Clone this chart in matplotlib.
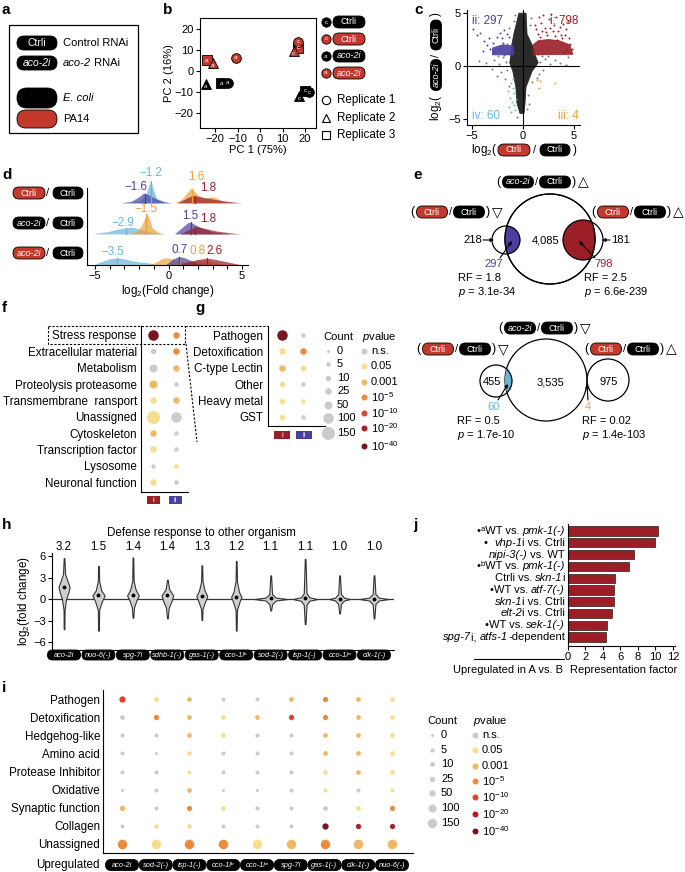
import numpy as np
import matplotlib
matplotlib.use('Agg')
import matplotlib.pyplot as plt
from matplotlib.patches import FancyBboxPatch, Circle, Rectangle, Polygon

plt.rcParams['font.family'] = ['Liberation Sans', 'DejaVu Sans']
plt.rcParams['mathtext.fontset'] = 'custom'
plt.rcParams['mathtext.rm'] = 'Liberation Sans'
plt.rcParams['mathtext.it'] = 'Liberation Sans:italic'
plt.rcParams['font.size'] = 8
plt.rcParams['axes.linewidth'] = 0.8
for k in ['xtick', 'ytick']:
    plt.rcParams[k + '.major.width'] = 0.8
    plt.rcParams[k + '.minor.width'] = 0.8
    plt.rcParams[k + '.major.size'] = 3
    plt.rcParams[k + '.minor.size'] = 3
    plt.rcParams[k + '.major.pad'] = 1.5

# ---------------- data ----------------
# b: PCA
pca_pc1 = [20.0, 17.5, 22.0, 17.0, 15.0, 17.0, -17.3, -24.0, -14.2, -23.6, -21.0, -10.7]
pca_pc2 = [-9.5, -12.0, -10.0, 11.0, 9.5, 13.8, -5.8, -6.2, -5.6, 5.2, 3.8, 6.2]
pca_rnai = ['c', 'c', 'c', 'c', 'c', 'c', 'a', 'a', 'a', 'a', 'a', 'a']
pca_pa14 = [0, 0, 0, 1, 1, 1, 0, 0, 0, 1, 1, 1]
pca_rep = [3, 2, 1, 3, 2, 1, 3, 2, 1, 3, 2, 1]

# c: scatter, dense regions as outlines + scattered points
cloud_x = [-0.4, 0.3, 0.4, 0.9, 1.2, 1.5, 0.9, 0.3, 0.2, 0.1, -0.3, -0.6, -0.7, -1.0, -1.3, -1.2, -1.1, -0.9]
cloud_y = [5.0, 5.0, 3.0, 2.0, 1.0, 0.3, -0.5, -2.0, -3.5, -4.5, -4.5, -3.5, -2.0, -0.5, 0.3, 1.0, 2.0, 3.0]
redpatch_x = [1.0, 4.9, 4.6, 3.5, 2.5, 1.5, 1.0]
redpatch_y = [1.05, 1.1, 2.0, 2.4, 2.5, 2.4, 2.0]
bluepatch_x = [-3.0, -0.9, -0.9, -2.0, -3.0]
bluepatch_y = [1.05, 1.05, 1.9, 2.0, 1.7]
red_x = [1.3, 1.8, 2.2, 2.6, 3.0, 3.4, 3.9, 4.2, 4.5, 3.7, 2.9, 2.4, 1.6, 2.0, 3.2, 4.4, 4.8, 4.6, 1.2, 2.7, 3.6, 1.9, 4.1, 3.3, 4.0, 4.3, 1.5, 2.3, 3.1, 3.8, 2.8, 1.7]
red_y = [3.5, 4.1, 3.6, 4.4, 3.9, 3.3, 4.0, 3.5, 2.6, 2.9, 3.3, 2.9, 4.6, 4.8, 4.6, 4.3, 1.6, 2.1, 3.9, 3.6, 3.7, 3.3, 2.9, 2.5, 1.3, 1.5, 3.0, 3.2, 2.8, 2.6, 4.9, 2.7]
blue_x = [-4.5, -4.2, -3.8, -3.5, -3.2, -2.9, -2.6, -2.4, -2.1, -1.9, -1.6, -3.9, -2.8, -4.9, -2.3, -1.4, -3.3, -2.0]
blue_y = [2.9, 3.1, 2.4, 2.0, 1.6, 2.2, 2.7, 1.7, 2.6, 3.4, 3.0, 1.4, 1.3, 3.5, 3.1, 2.7, 2.6, 2.2]
lblue_x = [-1.2, -1.0, -0.9, -1.3, -1.1, -0.9, -1.4, -0.8, -1.2, -0.7, -1.5, -1.0]
lblue_y = [-1.6, -2.1, -2.6, -3.0, -3.4, -3.7, -3.9, -4.2, -4.4, -3.1, -2.4, -1.2]
orng_x = [1.4, 1.6, 3.1, 1.7]
orng_y = [-1.3, -2.1, -1.6, -1.4]
gray_x = [-3.6, -2.8, -2.4, -2.0, -1.7, -1.6, -2.2, -3.0, 1.7, 2.2, 2.7, 3.1, 3.6, 4.4, 2.0, 1.6, 1.4, -1.8, -1.4, 0.5, 0.6, 0.4, -0.9, 0.7, 0.8, -1.4, -1.5, 1.5, -0.6, 4.2, -4.3, -2.6, -1.9, 1.9, 0.9, -0.8, 0.6, -1.6, 2.5, -2.5]
gray_y = [0.3, 0.6, 0.2, 0.8, 0.4, -0.4, -0.6, -0.3, 0.4, 0.7, 0.2, 0.6, 0.3, 0.8, -0.4, -0.8, -1.1, -1.2, -1.9, -2.8, -3.6, -4.1, 4.3, 3.9, 4.5, 3.6, 1.2, 1.1, -4.8, 0.1, 0.5, -1.0, 1.0, 0.9, -1.5, 4.8, 2.4, 2.1, 0.95, 0.9]
quad_labels = ['ii: 297', 'i: 798', 'iv: 60', 'iii: 4']

# d: ridge densities (x, height) per row
r1_blue_x = [-2.6, -2.0, -1.6, -1.35, -1.2, -1.05, -0.8, -0.3, 0.1]
r1_blue_y = [0, 0.06, 0.22, 0.55, 0.72, 0.45, 0.15, 0.03, 0]
r1_purp_x = [-3.2, -2.5, -2.0, -1.7, -1.3, -0.8, -0.3, 0.2]
r1_purp_y = [0, 0.06, 0.2, 0.32, 0.25, 0.12, 0.04, 0]
r1_orng_x = [0.4, 0.9, 1.3, 1.55, 1.9, 2.4, 2.9, 3.2, 3.7, 4.3]
r1_orng_y = [0, 0.12, 0.35, 0.48, 0.3, 0.14, 0.2, 0.18, 0.04, 0]
r1_red_x = [0.6, 1.1, 1.6, 2.1, 2.7, 3.3, 3.9, 4.6, 5.0]
r1_red_y = [0, 0.12, 0.24, 0.2, 0.15, 0.1, 0.06, 0.02, 0]
r2_blue_x = [-5.0, -4.2, -3.5, -2.9, -2.4, -2.0, -1.5, -1.0, -0.5]
r2_blue_y = [0.02, 0.07, 0.15, 0.2, 0.22, 0.16, 0.1, 0.04, 0]
r2_orng_x = [-2.6, -2.1, -1.8, -1.5, -1.35, -1.1, -0.7, -0.2]
r2_orng_y = [0, 0.1, 0.3, 0.65, 0.55, 0.2, 0.05, 0]
r2_purp_x = [0.4, 0.9, 1.3, 1.5, 1.8, 2.3, 2.9, 3.6, 4.2]
r2_purp_y = [0, 0.2, 0.36, 0.38, 0.3, 0.18, 0.08, 0.03, 0]
r2_red_x = [0.8, 1.4, 1.9, 2.5, 3.2, 4.0, 4.7, 5.0]
r2_red_y = [0, 0.15, 0.24, 0.18, 0.1, 0.05, 0.01, 0]
r3_blue_x = [-5.0, -4.5, -4.0, -3.5, -3.0, -2.5, -2.0, -1.5, -1.0, -0.5]
r3_blue_y = [0.03, 0.12, 0.2, 0.23, 0.2, 0.14, 0.1, 0.08, 0.04, 0]
r3_orng_x = [-1.5, -0.9, -0.4, 0.0, 0.5, 1.0, 1.6, 2.2, 2.8, 3.4, 4.0]
r3_orng_y = [0, 0.08, 0.22, 0.23, 0.15, 0.1, 0.12, 0.15, 0.12, 0.05, 0]
r3_purp_x = [-0.2, 0.3, 0.7, 1.0, 1.5, 2.0, 2.6]
r3_purp_y = [0, 0.2, 0.27, 0.25, 0.15, 0.05, 0]
r3_red_x = [0.6, 1.3, 2.0, 2.6, 3.2, 3.8, 4.5, 5.0]
r3_red_y = [0, 0.1, 0.18, 0.22, 0.18, 0.12, 0.05, 0]
r1_medians = [-1.2, -1.6, 1.6, 1.8]
r2_medians = [-2.9, -1.5, 1.5, 1.8]
r3_medians = [-3.5, 0.8, 0.7, 2.6]

# e: venn numbers
venn_up = ['218', '4,085', '181', '297', '798']
venn_up_stats = ['RF = 1.8', '$p$ = 3.1e-34', 'RF = 2.5', '$p$ = 6.6e-239']
venn_dn = ['455', '3,535', '975', '60', '4']
venn_dn_stats = ['RF = 0.5', '$p$ = 1.7e-10', 'RF = 0.02', '$p$ = 1.4e-103']

# f / g / i: enrichment dot plots (count, p-value level 0=n.s. ... 6=1e-40)
legend_counts = [0, 5, 10, 25, 50, 100, 150]
p_labels = ['n.s.', '0.05', '0.001', '10$^{-5}$', '10$^{-10}$', '10$^{-20}$', '10$^{-40}$']
f_rows = ['Stress response', 'Extracellular material', 'Metabolism', 'Proteolysis proteasome',
          'Transmembrane  ransport', 'Unassigned', 'Cytoskeleton', 'Transcription factor',
          'Lysosome', 'Neuronal function']
f_count_i = [100, 10, 50, 50, 25, 150, 25, 25, 5, 25]
f_count_ii = [25, 25, 25, 5, 25, 100, 5, 5, 5, 5]
f_level_i = [6, 0, 0, 2, 1, 1, 2, 1, 0, 1]
f_level_ii = [3, 3, 2, 0, 2, 0, 0, 0, 1, 0]
g_rows = ['Pathogen', 'Detoxification', 'C-type Lectin', 'Other', 'Heavy metal', 'GST']
g_count_i = [100, 25, 25, 10, 10, 10]
g_count_ii = [5, 25, 10, 5, 5, 5]
g_level_i = [6, 1, 2, 1, 1, 1]
g_level_ii = [0, 3, 1, 0, 1, 0]

i_rows = ['Pathogen', 'Detoxification', 'Hedgehog-like', 'Amino acid', 'Protease Inhibitor',
          'Oxidative', 'Synaptic function', 'Collagen', 'Unassigned']
i_cols = ['aco-2i', 'sod-2(-)', 'isp-1(-)', 'cco-1iᵇ', 'cco-1iᵃ', 'spg-7i', 'gas-1(-)', 'clk-1(-)', 'nuo-6(-)']
i_counts = [[50, 10, 10, 5, 5, 10, 25, 10, 10],
            [10, 25, 10, 10, 10, 25, 25, 10, 10],
            [5, 5, 10, 10, 5, 5, 10, 10, 10],
            [5, 0, 10, 5, 5, 5, 10, 10, 10],
            [5, 5, 5, 5, 5, 5, 10, 10, 10],
            [0, 5, 10, 0, 0, 5, 5, 5, 5],
            [25, 5, 25, 10, 5, 5, 10, 10, 25],
            [5, 10, 10, 5, 5, 5, 50, 25, 25],
            [150, 150, 150, 150, 150, 150, 150, 150, 150]]
i_levels = [[4, 1, 2, 0, 0, 2, 3, 2, 1],
            [0, 3, 2, 1, 2, 4, 3, 2, 1],
            [0, 0, 2, 1, 0, 0, 2, 2, 1],
            [0, 0, 1, 0, 0, 0, 2, 2, 1],
            [0, 0, 1, 0, 0, 0, 1, 2, 1],
            [0, 0, 2, 0, 0, 0, 1, 0, 1],
            [2, 0, 3, 1, 0, 0, 0, 1, 3],
            [0, 1, 1, 0, 0, 0, 6, 5, 5],
            [3, 1, 3, 3, 1, 2, 3, 2, 2]]

# h: violins (y knots, half widths), medians, representation factors
h_cols = ['aco-2i', 'nuo-6(-)', 'spg-7i', 'sdhb-1(-)', 'gas-1(-)', 'cco-1iᵇ', 'sod-2(-)', 'isp-1(-)', 'cco-1iᵃ', 'clk-1(-)']
h_rf = ['3.2', '1.5', '1.4', '1.4', '1.3', '1.2', '1.1', '1.1', '1.0', '1.0']
viol_y = [[-4.2, -1.5, 0, 1.0, 1.7, 2.5, 3.5, 5.7],
          [-4.4, -1.5, -0.3, 0.5, 1.2, 2.5, 4.6],
          [-2.6, -1.2, -0.2, 0.5, 1.3, 2.5, 5.8],
          [-2.7, -1.2, -0.3, 0.5, 1.4, 2.7],
          [-2.9, -1.4, -0.3, 0.4, 1.2, 2.5, 4.7],
          [-4.4, -1.5, -0.3, 0.3, 1.0, 2.5, 5.3],
          [-1.6, -0.7, -0.2, 0.0, 0.2, 0.7, 3.3],
          [-3.5, -0.8, -0.25, 0.0, 0.25, 0.8, 5.6],
          [-2.0, -0.7, -0.2, 0.0, 0.2, 0.7, 3.3],
          [-2.7, -0.7, -0.2, 0.0, 0.2, 0.7, 3.3]]
viol_w = [[0.01, 0.015, 0.06, 0.13, 0.16, 0.1, 0.03, 0.01],
          [0.01, 0.02, 0.1, 0.18, 0.08, 0.02, 0.01],
          [0.01, 0.03, 0.1, 0.17, 0.08, 0.02, 0.01],
          [0.01, 0.04, 0.12, 0.17, 0.05, 0.01],
          [0.01, 0.02, 0.1, 0.16, 0.08, 0.02, 0.01],
          [0.01, 0.02, 0.1, 0.15, 0.08, 0.02, 0.01],
          [0.01, 0.04, 0.15, 0.48, 0.15, 0.04, 0.01],
          [0.01, 0.04, 0.12, 0.35, 0.12, 0.04, 0.01],
          [0.01, 0.04, 0.13, 0.3, 0.13, 0.04, 0.01],
          [0.01, 0.04, 0.14, 0.42, 0.14, 0.04, 0.01]]
viol_med = [1.7, 0.5, 0.5, 0.5, 0.4, 0.3, 0.1, 0.1, 0.0, 0.0]

# j: representation factors
j_labels = [[('•ᵃWT vs. ', 'normal'), ('pmk-1(-)', 'italic')],
            [('•  ', 'normal'), ('vhp-1', 'italic'), ('i vs. Ctrli', 'normal')],
            [('nipi-3(-)', 'italic'), (' vs. WT', 'normal')],
            [('•ᵇWT vs. ', 'normal'), ('pmk-1(-)', 'italic')],
            [('Ctrli vs. ', 'normal'), ('skn-1', 'italic'), ('i', 'normal')],
            [('•WT vs. ', 'normal'), ('atf-7(-)', 'italic')],
            [('skn-1', 'italic'), ('i vs. Ctrli', 'normal')],
            [('elt-2', 'italic'), ('i vs. Ctrli', 'normal')],
            [('•WT vs. ', 'normal'), ('sek-1(-)', 'italic')],
            [('spg-7', 'italic'), ('i, ', 'normal'), ('atfs-1', 'italic'), ('-dependent', 'normal')]]
j_values = [10.3, 9.9, 7.6, 7.0, 5.4, 5.3, 5.3, 5.0, 4.5, 4.4]

# ---------------- style ----------------
PA14 = '#c4392d'
DARKRED = '#9b1d26'
PURPLE = '#4a40a0'
LBLUE = '#6ab4d8'
ORANGE = '#e9a23b'
P_COLORS = ['#cbcbcb', '#f3df8f', '#efb862', '#eb8b3d', '#dc4430', '#ad2029', '#781523']
fg_diam = [3, 4.5, 5.5, 6.5, 8, 10.5, 13]
i_diam = [3, 4, 4.7, 5.3, 6.3, 8, 9.5]

W, H = 685, 872
fig = plt.figure(figsize=(W / 100, H / 100), dpi=100)
ov = fig.add_axes([0, 0, 1, 1], zorder=10)
ov.set_xlim(0, W)
ov.set_ylim(H, 0)
ov.axis('off')
renderer = fig.canvas.get_renderer()


def px_axes(x0, y0, x1, y1):
    return fig.add_axes([x0 / W, 1 - y1 / H, (x1 - x0) / W, (y1 - y0) / H])


def pill(x, y, txt, fc='black', w=31, h=12, fs=6.5, style='normal', rot=0):
    if rot:
        w, h = h, w
    ov.add_patch(FancyBboxPatch((x - w / 2, y - h / 2), w, h,
                                boxstyle='round,pad=0,rounding_size=%g' % (min(w, h) / 2),
                                fc=fc, ec='black', lw=0.6))
    if txt:
        ov.text(x, y, txt, color='white', fontsize=fs, style=style, ha='center',
                va='center', rotation=rot)


def text_w(s, **kw):
    # width of a string including leading/trailing spaces
    t1 = ov.text(0, 0, '|' + s + '|', **kw)
    t2 = ov.text(0, 0, '||', **kw)
    w = t1.get_window_extent(renderer).width - t2.get_window_extent(renderer).width
    t1.remove()
    t2.remove()
    return w


def rich(x, y, parts, ha='left', fs=8, color='black'):
    seq = parts[::-1] if ha == 'right' else parts
    for s, st in seq:
        ov.text(x, y, s, fontsize=fs, style=st, ha=ha, va='center', color=color)
        w = text_w(s, fontsize=fs, style=st)
        x = x + w if ha == 'left' else x - w


def ratio(x, y, left, lcol, tri, left_it=False):
    ov.text(x, y, '(', ha='center', va='center', fontsize=9)
    pill(x + 20, y, left, lcol, 31, 12, 6.5, 'italic' if left_it else 'normal')
    ov.text(x + 38.5, y, '/', ha='center', va='center', fontsize=8)
    pill(x + 57, y, 'Ctrli', 'black', 31, 12, 6.5)
    ov.text(x + 76, y, ')', ha='center', va='center', fontsize=9)
    ov.text(x + 85, y, tri, ha='center', va='center', fontsize=10)


def panel(x, y, s):
    ov.text(x, y, s, fontsize=11, fontweight='bold', va='center', ha='left')


def dots(ax, counts, levels, diam):
    for r, (crow, lrow) in enumerate(zip(counts, levels)):
        for c, (n, lv) in enumerate(zip(crow, lrow)):
            d = np.interp(n, legend_counts, diam)
            ax.scatter(c, r, s=(d * 0.72) ** 2, color=P_COLORS[lv], lw=0, clip_on=False)


def dot_legend(xc, yc, ycs, xp, yp, yps, diam):
    ov.text(xc + 10, yc, 'Count', ha='center', va='center')
    for n, yy, d in zip(legend_counts, ycs, diam):
        ov.scatter(xc, yy, s=(d * 0.72) ** 2, color='#cbcbcb', lw=0)
        ov.text(xc + 9, yy, str(n), va='center')
    ov.text(xp - 2, yp, '$p$value', va='center')
    for lab, yy, col in zip(p_labels, yps, P_COLORS):
        ov.scatter(xp, yy, s=(6 * 0.72) ** 2, color=col, lw=0)
        ov.text(xp + 7, yy, lab, va='center')


# ---------------- a ----------------
panel(2, 10, 'a')
ov.add_patch(Rectangle((9, 25), 129, 108, fill=False, lw=0.9, ec='black'))
pill(37, 43, 'Ctrli', 'black', 40, 14, 7.5)
ov.text(63, 43, 'Control RNAi', va='center')
pill(37, 63, 'aco-2i', 'black', 40, 14, 7.5, 'italic')
rich(63, 63, [('aco-2', 'italic'), (' RNAi', 'normal')])
pill(37, 98, '', 'black', 40, 20)
ov.text(63, 98, 'E. coli', style='italic', va='center')
pill(37, 119, '', PA14, 40, 18)
ov.text(63, 119, 'PA14', va='center')

# ---------------- b ----------------
panel(163, 10, 'b')
axb = px_axes(200, 18, 316, 128)
markers = {1: 'o', 2: '^', 3: 's'}
msizes = {1: 7.0, 2: 7.5, 3: 6.5}
for x, y, rn, pa, rep in zip(pca_pc1, pca_pc2, pca_rnai, pca_pa14, pca_rep):
    axb.plot(x, y, marker=markers[rep], ms=msizes[rep], mfc=PA14 if pa else 'black',
             mec='black', mew=0.6, ls='none')
    axb.text(x, y - (1.2 if rep == 2 else 0), rn, color='white', fontsize=4.5, ha='center',
             va='center', style='italic' if rn == 'a' else 'normal')
axb.set_xlim(-26.7, 24.9)
axb.set_ylim(-27.1, 25.2)
axb.set_xticks([-20, -10, 0, 10, 20])
axb.set_yticks([-20, -10, 0, 10, 20])
axb.set_xlabel('PC 1 (75%)', labelpad=0.5)
axb.set_ylabel('PC 2 (16%)', labelpad=0.5)
for yy, fc, lab, it in zip([22, 39, 56, 73], ['black', PA14, 'black', PA14],
                           ['Ctrli', 'Ctrli', 'aco-2i', 'aco-2i'], [0, 0, 1, 1]):
    ov.scatter(326, yy, s=45, color=fc, edgecolor='black', lw=0.6)
    ov.text(326, yy, 'a' if it else 'c', color='white', fontsize=4.5, ha='center', va='center',
            style='italic' if it else 'normal')
    pill(349, yy, lab, fc, 32, 12, 6.5, 'italic' if it else 'normal')
for yy, m, k in zip([100, 118, 135], ['o', '^', 's'], [1, 2, 3]):
    ov.plot(326, yy, marker=m, ms=6, mfc='white', mec='black', mew=0.8, ls='none')
    ov.text(337, yy, 'Replicate %d' % k, va='center', fontsize=8.4)

# ---------------- c ----------------
panel(414, 10, 'c')
axc = px_axes(467, 10, 580, 125)
axc.scatter(gray_x, gray_y, s=2, color='#777777', lw=0)
axc.add_patch(Polygon(np.column_stack([cloud_x, cloud_y]), fc='#2b2b2b', ec='#2b2b2b', lw=0.6))
axc.add_patch(Polygon(np.column_stack([redpatch_x, redpatch_y]), fc=DARKRED, ec=DARKRED, lw=0.6, alpha=0.9))
axc.add_patch(Polygon(np.column_stack([bluepatch_x, bluepatch_y]), fc=PURPLE, ec=PURPLE, lw=0.6, alpha=0.9))
axc.scatter(red_x, red_y, s=2, color=DARKRED, lw=0)
axc.scatter(blue_x, blue_y, s=2, color=PURPLE, lw=0)
axc.scatter(lblue_x, lblue_y, s=2, color=LBLUE, lw=0)
axc.scatter(orng_x, orng_y, s=2, color=ORANGE, lw=0)
axc.axhline(0, color='black', lw=0.8)
axc.axvline(0, color='black', lw=0.8)
axc.set_xlim(-5.5, 5.6)
axc.set_ylim(-5.6, 5.3)
axc.set_xticks([-5, 0, 5])
axc.set_yticks([-5, 0, 5])
for s in ['top', 'right']:
    axc.spines[s].set_visible(False)
axc.text(0.04, 0.96, quad_labels[0], color=PURPLE, transform=axc.transAxes, va='top', fontsize=8.4)
axc.text(0.99, 0.96, quad_labels[1], color=DARKRED, transform=axc.transAxes, va='top', ha='right', fontsize=8.4)
axc.text(0.04, 0.03, quad_labels[2], color=LBLUE, transform=axc.transAxes, va='bottom', fontsize=8.4)
axc.text(0.99, 0.03, quad_labels[3], color=ORANGE, transform=axc.transAxes, va='bottom', ha='right', fontsize=8.4)
ov.text(497, 150, 'log$_2$(', ha='right', va='center', fontsize=8.4)
pill(514, 150, 'Ctrli', PA14, 32, 12, 6.5)
ov.text(535, 150, '/', ha='center', va='center')
pill(555, 150, 'Ctrli', 'black', 30, 12, 6.5)
ov.text(573, 150, ')', ha='left', va='center', fontsize=8.4)
ov.text(436, 108, 'log$_2$(', rotation=90, ha='center', va='center', fontsize=8.4)
pill(436, 75, 'aco-2i', 'black', 31, 11, 6.5, 'italic', rot=90)
ov.text(436, 55, '/', rotation=90, ha='center', va='center')
pill(436, 35, 'Ctrli', 'black', 30, 11, 6.5, rot=90)
ov.text(436, 14, ')', rotation=90, ha='center', va='center', fontsize=8.4)

# ---------------- d ----------------
panel(2, 175, 'd')
axd = px_axes(87, 188, 248, 265)
rows = [(2, [(r1_blue_x, r1_blue_y, LBLUE), (r1_purp_x, r1_purp_y, PURPLE),
             (r1_orng_x, r1_orng_y, ORANGE), (r1_red_x, r1_red_y, DARKRED)], r1_medians),
        (1, [(r2_blue_x, r2_blue_y, LBLUE), (r2_orng_x, r2_orng_y, ORANGE),
             (r2_purp_x, r2_purp_y, PURPLE), (r2_red_x, r2_red_y, DARKRED)], r2_medians),
        (0, [(r3_blue_x, r3_blue_y, LBLUE), (r3_orng_x, r3_orng_y, ORANGE),
             (r3_purp_x, r3_purp_y, PURPLE), (r3_red_x, r3_red_y, DARKRED)], r3_medians)]
label_off = [[(0.0, 0.95), (-0.6, 0.52), (0.3, 0.84), (0.9, 0.48)],
             [(-0.2, 0.35), (-0.05, 0.8), (0.0, 0.58), (0.9, 0.48)],
             [(-0.3, 0.42), (1.2, 0.45), (0.05, 0.48), (0.5, 0.45)]]
for (base, curves, meds), offs in zip(rows, label_off):
    for (xs, ys, col), med, (dx, dy) in zip(curves, meds, offs):
        ax_y = base + np.array(ys)
        axd.fill_between(xs, base, ax_y, color=col, alpha=0.7, lw=0, clip_on=False)
        hmed = np.interp(med, xs, ys)
        axd.plot([med, med], [base, base + hmed], color=col, lw=0.9, clip_on=False)
        txt = ('%.1f' % med).replace('-', '−')
        axd.text(med + dx, base + dy, txt, color=col, ha='center', va='center', fontsize=8.4)
axd.set_xlim(-5.54, 5.4)
axd.set_ylim(0, 2.48)
axd.set_xticks([-5, 0, 5])
axd.set_xticks(range(-5, 6), minor=True)
axd.set_yticks([])
for s in ['top', 'right']:
    axd.spines[s].set_visible(False)
axd.set_xlabel('log$_2$(Fold change)', labelpad=1, fontsize=8.4)
for yy, lc, lt, it in zip([193, 223, 253], [PA14, 'black', PA14], ['Ctrli', 'aco-2i', 'aco-2i'], [0, 1, 1]):
    pill(29, yy, lt, lc, 32, 12, 6.5, 'italic' if it else 'normal')
    ov.text(48, yy, '/', ha='center', va='center')
    pill(68, yy, 'Ctrli', 'black', 30, 12, 6.5)

# ---------------- e ----------------
panel(413, 175, 'e')
ratio(498, 182, 'aco-2i', 'black', '△', True)
ratio(412, 212, 'Ctrli', PA14, '▽')
ratio(593, 212, 'Ctrli', PA14, '△')
big = Circle((550, 239), 45, fill=False, ec='black', lw=0.9)
ov.add_patch(big)
blue_lens = Circle((506, 240), 14, fc=PURPLE, ec='none')
ov.add_patch(blue_lens)
blue_lens.set_clip_path(big)
red_lens = Circle((583, 240), 20, fc=DARKRED, ec='none')
ov.add_patch(red_lens)
red_lens.set_clip_path(big)
ov.add_patch(Circle((506, 240), 14, fill=False, ec='black', lw=0.9))
ov.add_patch(Circle((583, 240), 20, fill=False, ec='black', lw=0.9))
ov.add_patch(Circle((550, 239), 45, fill=False, ec='black', lw=0.9))
aprops = dict(arrowstyle='-|>', lw=0.8, color='black', mutation_scale=5, shrinkA=0, shrinkB=0)
ov.text(482, 240, venn_up[0], ha='right', va='center')
ov.annotate('', xy=(494, 240), xytext=(483, 240), arrowprops=aprops)
ov.text(546, 240, venn_up[1], ha='center', va='center')
ov.text(611, 240, venn_up[2], ha='left', va='center')
ov.annotate('', xy=(602, 240), xytext=(610, 240), arrowprops=aprops)
ov.text(494, 264, venn_up[3], ha='center', va='center', color=PURPLE)
ov.annotate('', xy=(512, 241), xytext=(500, 258), arrowprops=aprops)
ov.text(604, 264, venn_up[4], ha='center', va='center', color=DARKRED)
ov.annotate('', xy=(579, 241), xytext=(595, 258), arrowprops=aprops)
ov.text(458, 278, venn_up_stats[0], va='center')
ov.text(458, 292, venn_up_stats[1], va='center')
ov.text(584, 278, venn_up_stats[2], va='center')
ov.text(584, 292, venn_up_stats[3], va='center')

ratio(500, 328, 'aco-2i', 'black', '▽', True)
ratio(418, 349, 'Ctrli', PA14, '▽')
ratio(586, 349, 'Ctrli', PA14, '△')
big2 = Circle((546, 380), 41, fill=False, ec='black', lw=0.9)
ov.add_patch(big2)
lb_lens = Circle((496, 381), 16, fc=LBLUE, ec='none')
ov.add_patch(lb_lens)
lb_lens.set_clip_path(big2)
ov.add_patch(Circle((496, 381), 16, fill=False, ec='black', lw=0.9))
ov.add_patch(Circle((608, 380), 21, fill=False, ec='black', lw=0.9))
ov.text(492, 382, venn_dn[0], ha='center', va='center')
ov.text(550, 382, venn_dn[1], ha='center', va='center')
ov.text(609, 382, venn_dn[2], ha='center', va='center')
ov.text(494, 407, venn_dn[3], ha='center', va='center', color=LBLUE)
ov.annotate('', xy=(508, 384), xytext=(498, 400), arrowprops=aprops)
ov.text(588, 407, venn_dn[4], ha='center', va='center', color=ORANGE)
ov.annotate('', xy=(587, 384), xytext=(588, 400), arrowprops=aprops)
ov.text(457, 421, venn_dn_stats[0], va='center')
ov.text(457, 435, venn_dn_stats[1], va='center')
ov.text(582, 421, venn_dn_stats[2], va='center')
ov.text(582, 435, venn_dn_stats[3], va='center')

# ---------------- f ----------------
panel(2, 308, 'f')
axf = px_axes(141, 326, 188, 492)
dots(axf, list(zip(f_count_i, f_count_ii)), list(zip(f_level_i, f_level_ii)), fg_diam)
axf.set_xlim(-0.52, 1.52)
axf.set_ylim(9.61, -0.55)
axf.set_yticks(range(len(f_rows)))
axf.set_yticklabels(f_rows, fontsize=8.4)
axf.tick_params(axis='y', length=0, pad=3)
axf.set_xticks([])
for s in ['top', 'right']:
    axf.spines[s].set_visible(False)
for x0, fc, t in [(147, DARKRED, 'i'), (169, PURPLE, 'ii')]:
    ov.add_patch(Rectangle((x0, 496), 13, 8, fc=fc, ec='none'))
    ov.text(x0 + 6.5, 500, t, color='white', fontsize=5.5, ha='center', va='center')
ov.add_patch(Rectangle((48, 326), 137, 18, fill=False, ls=(0, (2, 1.5)), lw=0.8))
ov.plot([185, 268], [326, 326], ls=(0, (2, 1.5)), lw=0.8, color='black')
ov.plot([186, 197], [344, 442], ls=(0, (2, 1.5)), lw=0.8, color='black')

# ---------------- g ----------------
panel(195, 308, 'g')
axg = px_axes(268, 326, 325, 426)
dots(axg, list(zip(g_count_i, g_count_ii)), list(zip(g_level_i, g_level_ii)), fg_diam)
axg.set_xlim(-0.67, 2.05)
axg.set_ylim(5.55, -0.55)
axg.set_yticks(range(len(g_rows)))
axg.set_yticklabels(g_rows, fontsize=8.4)
axg.tick_params(axis='y', length=0, pad=3.5)
axg.set_xticks([])
for s in ['top', 'right']:
    axg.spines[s].set_visible(False)
for x0, fc, t in [(274, DARKRED, 'i'), (296, PURPLE, 'ii')]:
    ov.add_patch(Rectangle((x0, 431), 16, 8, fc=fc, ec='none'))
    ov.text(x0 + 8, 435, t, color='white', fontsize=5.5, ha='center', va='center')
dot_legend(328, 337, [351, 364, 378, 391, 405, 418, 433], 364, 337,
           [351, 366, 382, 397, 413, 428, 446], fg_diam)

# ---------------- h ----------------
panel(2, 525, 'h')
axh = px_axes(52, 553, 394, 650)
axh.axhline(0, color='#333333', lw=0.9, zorder=1)
for k in range(len(viol_y)):
    yv = np.array(viol_y[k])
    wv = np.array(viol_w[k])
    axh.fill_betweenx(yv, k - wv, k + wv, fc='#cfcfcf', ec='#333333', lw=0.8, zorder=2)
    axh.plot(k, viol_med[k], 'o', ms=1.8, color='black', zorder=3)
    axh.text(k, 7.3, h_rf[k], ha='center', va='center', fontsize=8.4)
axh.text(4.0, 9.2, 'Defense response to other organism', ha='center', va='center', fontsize=8.4)
axh.set_xlim(-0.35, 9.58)
axh.set_ylim(-7.1, 6.42)
axh.set_yticks([-6, -3, 0, 3, 6])
axh.set_xticks([])
for s in ['top', 'right']:
    axh.spines[s].set_visible(False)
axh.set_ylabel('log$_2$(fold change)', labelpad=1, fontsize=8.4)
for k, lab in enumerate(h_cols):
    pill(64 + 34.44 * k, 655, lab, 'black', 33, 10, 5.3, 'italic')

# ---------------- j ----------------
panel(413, 525, 'j')
axj = px_axes(568, 524, 675, 646)
axj.barh(range(len(j_values)), j_values, height=0.78, color=DARKRED, ec='black', lw=0.4)
axj.set_xlim(0, 12.23)
axj.set_ylim(9.76, -0.6)
axj.set_xticks(range(0, 13, 2))
axj.set_yticks([])
for s in ['top', 'right']:
    axj.spines[s].set_visible(False)
for k, parts in enumerate(j_labels):
    rich(565, 531 + 11.78 * k, parts, ha='right', fs=8)
ov.plot([474, 564], [659, 659], color='black', lw=0.8)
ov.text(563, 670, 'Upregulated in A vs. B', ha='right', va='center')
ov.text(624, 670, 'Representation factor', ha='center', va='center')

# ---------------- i ----------------
panel(2, 688, 'i')
axi = px_axes(103, 690, 413, 853)
dots(axi, i_counts, i_levels, i_diam)
axi.set_xlim(-0.56, 8.62)
axi.set_ylim(8.5, -0.5)
axi.set_yticks(range(len(i_rows)))
axi.set_yticklabels(i_rows, fontsize=8.4)
axi.tick_params(axis='y', length=0, pad=2)
axi.set_xticks([])
for s in ['top', 'right']:
    axi.spines[s].set_visible(False)
ov.text(100, 865, 'Upregulated', ha='right', va='center', fontsize=8.4)
for k, lab in enumerate(i_cols):
    pill(122 + 33.75 * k, 865, lab, 'black', 33, 11, 5.3, 'italic')
dot_legend(432, 721, [735, 750, 764, 779, 793, 808, 823], 475, 721,
           [735, 750, 766, 781, 797, 814, 831], i_diam)

fig.savefig('out.png', dpi=100)
